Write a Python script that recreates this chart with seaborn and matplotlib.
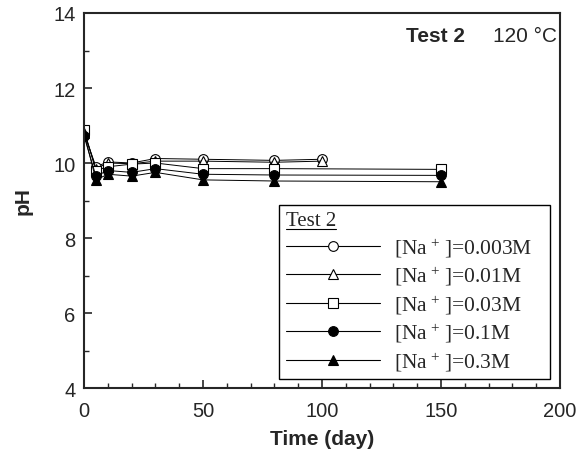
import numpy as np
import pandas as pd
import matplotlib
matplotlib.use("Agg")
import matplotlib.pyplot as plt
from matplotlib.lines import Line2D
from matplotlib.patches import Rectangle
from matplotlib.ticker import MultipleLocator
import seaborn as sns

# ── Data ─────────────────────────────────────────────────
t_short = [0, 5, 10, 20, 30, 50, 80, 100]
t_long = [0, 5, 10, 20, 30, 50, 80, 150]

ph_0003 = [10.80, 9.90, 10.03, 10.00, 10.12, 10.10, 10.07, 10.10]
ph_001 = [10.85, 9.85, 10.00, 9.98, 10.05, 10.05, 10.02, 10.05]
ph_003 = [10.88, 9.80, 9.90, 9.97, 10.00, 9.85, 9.85, 9.83]
ph_01 = [10.72, 9.65, 9.80, 9.75, 9.85, 9.70, 9.68, 9.67]
ph_03 = [10.80, 9.55, 9.70, 9.65, 9.75, 9.55, 9.52, 9.50]

labels = ["0.003M", "0.01M", "0.03M", "0.1M", "0.3M"]

# ── Style ────────────────────────────────────────────────
sns.set_style("ticks")
plt.rcParams["font.family"] = ["Liberation Sans", "DejaVu Sans"]
plt.rcParams["mathtext.fontset"] = "custom"
plt.rcParams["mathtext.rm"] = "Liberation Serif"
plt.rcParams["mathtext.it"] = "Liberation Serif:italic"
plt.rcParams["xtick.direction"] = "in"
plt.rcParams["ytick.direction"] = "in"

series = [
    (t_short, ph_0003, "o", "white"),
    (t_short, ph_001, "^", "white"),
    (t_long, ph_003, "s", "white"),
    (t_long, ph_01, "o", "black"),
    (t_long, ph_03, "^", "black"),
]

fig = plt.figure(figsize=(5.88, 4.56), dpi=100)
ax = fig.add_axes([0.1429, 0.1469, 0.8095, 0.8224])

handles = []
for (t, ph, mk, fc), lab in zip(series, labels):
    df = pd.DataFrame({"t": t, "ph": ph})
    sns.lineplot(data=df, x="t", y="ph", ax=ax, color="black", lw=0.7,
                 marker=mk, markersize=7, markerfacecolor=fc,
                 markeredgecolor="black", markeredgewidth=0.8)
    handles.append(Line2D([], [], color="black", lw=0.8, marker=mk, markersize=7,
                          markerfacecolor=fc, markeredgecolor="black",
                          markeredgewidth=0.8,
                          label=r"[Na$^{\,+}\,$]=" + lab))

ax.set_xlim(0, 200)
ax.set_ylim(4, 14)
ax.xaxis.set_major_locator(MultipleLocator(50))
ax.xaxis.set_minor_locator(MultipleLocator(10))
ax.yaxis.set_major_locator(MultipleLocator(2))
ax.yaxis.set_minor_locator(MultipleLocator(1))
ax.tick_params(which="major", length=6, width=1.2, labelsize=14.5, top=False, right=False)
ax.tick_params(which="minor", length=3.5, width=1.0, top=False, right=False)
ax.tick_params(axis="x", which="major", pad=9)
ax.tick_params(axis="y", which="major", pad=6)
for s in ax.spines.values():
    s.set_linewidth(1.5)
    s.set_visible(True)

ax.set_xlabel("Time (day)", fontsize=15, fontweight="bold", labelpad=7)
ax.set_ylabel("pH", fontsize=15, fontweight="bold", labelpad=15)

ax.text(0.80, 0.939, "Test 2", transform=ax.transAxes, ha="right", va="center",
        fontsize=15, fontweight="bold")
ax.text(0.994, 0.939, "120 °C", transform=ax.transAxes, ha="right", va="center",
        fontsize=15)

leg = ax.legend(handles=handles, loc="lower left", bbox_to_anchor=(0.41, 0.024),
                borderaxespad=0, frameon=False, handlelength=4.4, handletextpad=0.65,
                labelspacing=0.25, borderpad=0.3, title="Test 2",
                alignment="left",
                prop={"family": "Liberation Serif", "size": 15.5},
                title_fontproperties={"family": "Liberation Serif", "size": 15})

# draw the legend box by hand, a bit wider on the right as in the original
fig.canvas.draw()
lb = leg.get_window_extent()
box = Rectangle((lb.x0, lb.y0), lb.width + 11, lb.height, transform=None,
                facecolor="white", edgecolor="black", lw=1.0, zorder=4)
ax.add_artist(box)
leg.set_zorder(5)

# underline the legend title
bb = leg.get_title().get_window_extent()
fig.add_artist(Line2D([bb.x0, bb.x1], [bb.y0 + 1, bb.y0 + 1],
                      transform=None, color="black", lw=0.8))

fig.savefig("out.png", dpi=100)
